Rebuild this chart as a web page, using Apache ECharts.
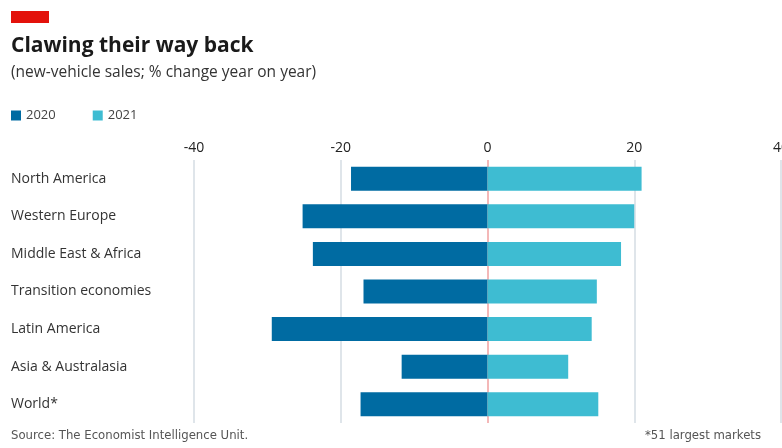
<!DOCTYPE html>
<html>
<head>
    <meta charset="utf-8">
    <title>Clawing their way back</title>
    <script src="https://cdn.jsdelivr.net/npm/echarts@6/dist/echarts.min.js"></script>
    <style>
        html, body { margin: 0; padding: 0; background: #fff; }
    </style>
</head>
<body>
    <div id="chart" style="width: 782px;height:448px;"></div>
    <script type="text/javascript">
        var regions = ['North America', 'Western Europe', 'Middle East & Africa', 'Transition economies',
            'Latin America', 'Asia & Australasia', 'World*'];
        var sales2020 = [-18.6, -25.2, -23.8, -16.9, -29.4, -11.7, -17.3];
        var sales2021 = [21.0, 20.0, 18.2, 14.9, 14.2, 11.0, 15.1];
        var xTicks = [-40, -20, 0, 20, 40];

        var font = "'Open Sans', Lato, sans-serif";
        var gridGrey = '#d5dde3';
        var zeroPink = '#f0a0a0';
        var myChart = echarts.init(document.getElementById('chart'));

        var option = {
            animation: false,
            textStyle: { fontFamily: font },
            title: [{
                text: 'Clawing their way back',
                left: 11,
                top: 36,
                padding: 0,
                textStyle: { fontSize: 21, fontWeight: 'bold', color: '#1a1a1a', fontFamily: font }
            }, {
                text: '(new-vehicle sales; % change year on year)',
                left: 11,
                top: 65,
                padding: 0,
                textStyle: { fontSize: 15.5, fontWeight: 'normal', color: '#333', fontFamily: font }
            }],
            graphic: [{
                type: 'rect',
                left: 11,
                top: 11,
                shape: { width: 38, height: 12 },
                style: { fill: '#e3120b' }
            }, {
                type: 'text',
                left: 11,
                top: 429,
                style: {
                    text: 'Source: The Economist Intelligence Unit.',
                    fill: '#555', fontSize: 13,
                    fontFamily: "'Liberation Sans Narrow', 'DejaVu Sans Condensed', sans-serif"
                }
            }, {
                type: 'text',
                right: 21,
                top: 429,
                style: {
                    text: '*51 largest markets',
                    fill: '#555', fontSize: 13,
                    fontFamily: "'Liberation Sans Narrow', 'DejaVu Sans Condensed', sans-serif"
                }
            }],
            legend: {
                data: ['2020', '2021'],
                left: 11,
                top: 109,
                padding: 0,
                icon: 'rect',
                itemWidth: 10,
                itemHeight: 10,
                itemGap: 37,
                textStyle: { fontSize: 13, color: '#444', fontFamily: font }
            },
            grid: {
                left: 194,
                right: 1,
                top: 160,
                height: 263,
                containLabel: false,
                outerBoundsMode: 'none'
            },
            xAxis: {
                type: 'value',
                position: 'top',
                min: -40,
                max: 40,
                interval: 20,
                axisLine: { show: false },
                axisTick: { show: false },
                axisLabel: {
                    margin: 5,
                    fontSize: 14,
                    color: '#222',
                    fontFamily: font,
                    hideOverlap: false,
                    formatter: function (v) { return xTicks.indexOf(v) >= 0 ? String(v) : ''; }
                },
                splitLine: {
                    show: true,
                    lineStyle: { color: [gridGrey, gridGrey, zeroPink, gridGrey, gridGrey], width: 1.5 }
                }
            },
            yAxis: {
                type: 'category',
                data: regions,
                inverse: true,
                axisLine: { show: false },
                axisTick: { show: false },
                axisLabel: {
                    align: 'left',
                    margin: 183,
                    fontSize: 14,
                    color: '#333',
                    fontFamily: font
                }
            },
            series: [{
                name: '2020',
                type: 'bar',
                data: sales2020,
                barWidth: 24,
                barGap: '-100%',
                itemStyle: { color: '#006ba2' }
            }, {
                name: '2021',
                type: 'bar',
                data: sales2021,
                barWidth: 24,
                itemStyle: { color: '#3ebcd2' }
            }]
        };
        myChart.setOption(option);
    </script>
</body>
</html>
